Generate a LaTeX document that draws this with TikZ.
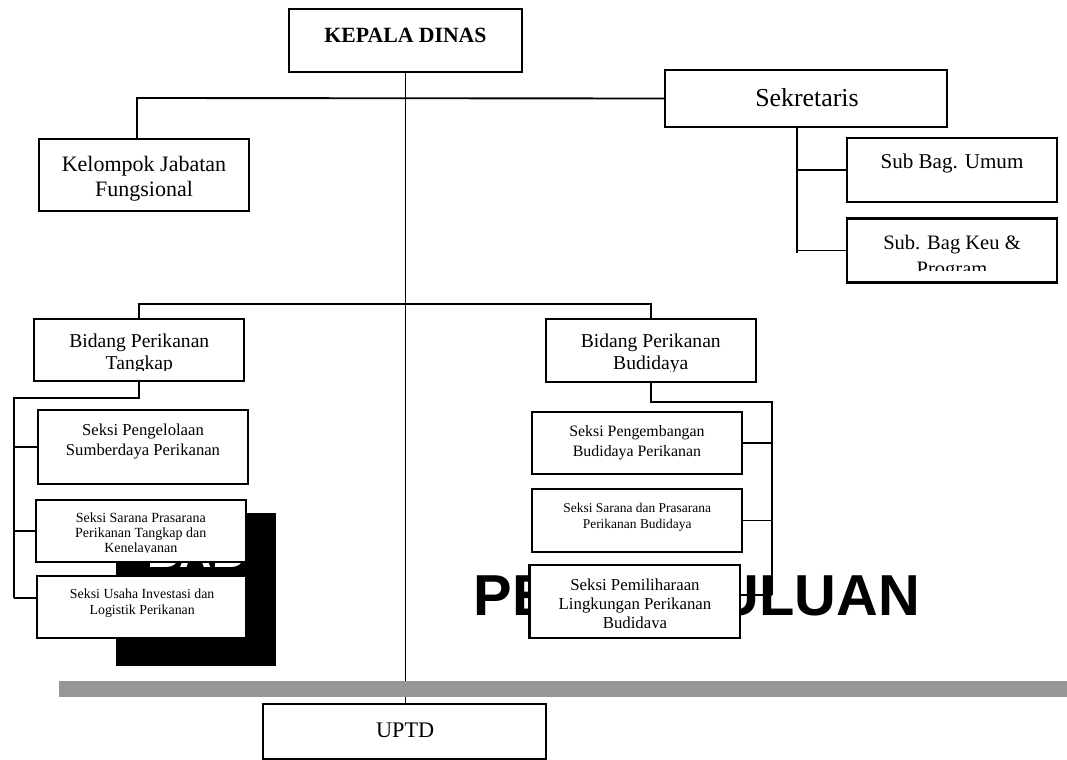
\documentclass[tikz,border=0pt]{standalone}
\usepackage{fontspec}
\setmainfont{Liberation Serif}
\setsansfont{Liberation Sans}
\definecolor{bargray}{RGB}{150,150,150}
\begin{document}
\begin{tikzpicture}[x=0.75pt,y=-0.75pt,
    box/.style={draw, line width=1.7pt, fill=white, inner sep=0pt, outer sep=0pt,
                minimum width=157.5pt, minimum height=46.5pt},
    txt/.style={align=center, inner sep=0pt},
    link/.style={line width=1.4pt}]
  \useasboundingbox (0,0) rectangle (1067,760);

  % stray page background: black block and heading
  \fill (116,513) rectangle (276,666);
  \node[white, inner sep=0pt, anchor=base, font=\fontsize{33.6pt}{40pt}\selectfont\sffamily\bfseries] (bab) at (196,567) {BAB};
  \node[inner sep=0pt, anchor=base, font=\fontsize{43.35pt}{52pt}\selectfont\sffamily\bfseries] (head) at (697,615) {PENDAHULUAN};

  % boxes
  \node[box, minimum width=174.75pt, minimum height=47.25pt] (kepala) at (405.5,40.5) {};
  \node[box, minimum height=54pt] (kel) at (144,175) {};
  \node[box, minimum width=211.5pt, minimum height=42.75pt] (sek) at (806,98.5) {};
  \node[box, minimum height=48pt] (subumum) at (952,170) {};
  \node[box, minimum height=48pt] (subkeu) at (952,250.5) {};
  \node[box] (bpt) at (139,350) {};
  \node[box, minimum height=47pt] (bpb) at (650.7,350.3) {};
  \node[box, minimum height=55.5pt] (s1) at (143,447) {};
  \node[box] (s2) at (141,531) {};
  \node[box, minimum width=156.75pt] (s3) at (141.5,607) {};
  \node[box] (s4) at (637,442.7) {};
  \node[box, minimum height=46.8pt] (s5) at (637,520.5) {};
  \node[box, minimum width=158pt, minimum height=54.3pt] (s6) at (634.7,601.5) {};
  \node[box, minimum width=211.8pt, minimum height=41.5pt] (uptd) at (404.5,731.3) {};

  % texts
  \node[txt, font=\fontsize{16.3pt}{19pt}\selectfont\bfseries] (t-kepala) at (405.5,35.5) {KEPALA DINAS};
  \node[txt, font=\fontsize{16.5pt}{18.75pt}\selectfont] (t-kel) at (144,178.5) {Kelompok Jabatan\\Fungsional};
  \node[txt, font=\fontsize{19.4pt}{23pt}\selectfont] (t-sek) at (807,98) {Sekretaris};
  \node[txt, font=\fontsize{15.8pt}{19pt}\selectfont] (t-subumum) at (952,163) {Sub Bag. Umum};
  \node[txt, font=\fontsize{12.5pt}{14.3pt}\selectfont] (t-s1) at (143,441.5) {Seksi Pengelolaan\\Sumberdaya Perikanan};
  \node[txt, font=\fontsize{10.4pt}{12.3pt}\selectfont] (t-s3) at (142.2,603) {Seksi Usaha Investasi dan\\Logistik Perikanan};
  \node[txt, font=\fontsize{11.9pt}{15pt}\selectfont] (t-s4) at (637,442.5) {Seksi Pengembangan\\Budidaya Perikanan};
  \node[txt, font=\fontsize{10.1pt}{12pt}\selectfont] (t-s5) at (637.2,517.5) {Seksi Sarana dan Prasarana\\Perikanan Budidaya};
  \node[txt, font=\fontsize{16.7pt}{20pt}\selectfont] (t-uptd) at (405.2,730) {UPTD};

  % texts cut off at the bottom of their box
  \begin{scope}
    \clip (subkeu.north west) rectangle ([yshift=9pt]subkeu.south east);
    \node[txt, font=\fontsize{15.4pt}{19.8pt}\selectfont] (t-subkeu) at (952,257.5) {Sub. Bag Keu \&\\Program};
  \end{scope}
  \begin{scope}
    \clip (bpt.north west) rectangle ([yshift=8.25pt]bpt.south east);
    \node[txt, font=\fontsize{14.7pt}{16.5pt}\selectfont] (t-bpt) at (139.3,353.5) {Bidang Perikanan\\Tangkap};
  \end{scope}
  \begin{scope}
    \clip (bpb.north west) rectangle ([yshift=7.5pt]bpb.south east);
    \node[txt, font=\fontsize{14.7pt}{16.5pt}\selectfont] (t-bpb) at (650.8,354) {Bidang Perikanan\\Budidaya};
  \end{scope}
  \begin{scope}
    \clip (s2.north west) rectangle ([yshift=7.5pt]s2.south east);
    \node[txt, font=\fontsize{10.5pt}{11.25pt}\selectfont] (t-s2) at (140.8,534.5) {Seksi Sarana Prasarana\\Perikanan Tangkap dan\\Kenelayanan};
  \end{scope}
  \begin{scope}
    \clip (s6.north west) rectangle ([yshift=7.5pt]s6.south east);
    \node[txt, font=\fontsize{12.6pt}{14.1pt}\selectfont] (t-s6) at (635,605.5) {Seksi Pemiliharaan\\Lingkungan Perikanan\\Budidaya};
  \end{scope}

  % connectors
  \coordinate (k0) at (137,98);
  \coordinate (sp) at (797,253);
  \coordinate (tp1) at (14,398);
  \coordinate (tp2) at (14,598);
  \coordinate (bp1) at (772,401.7);
  \coordinate (bp2) at (772,595);
  \draw[link] (kepala.south) -- (kepala.south |- uptd.north);
  \draw[link] (k0 |- kel.north) -- (k0) -- (sek.west);
  \draw[link] (sp |- sek.south) -- (sp);
  \draw[link] (sp |- subumum.west) -- (subumum.west);
  \draw[link] (sp |- subkeu.west) -- (subkeu.west);
  \draw[link] (bpt.north) -- ++(0,-15) -| (bpb.north);
  \draw[link] (bpt.south) |- (tp1) -- (tp2);
  \draw[link] (s1.west -| tp1) -- (s1.west);
  \draw[link] (s2.west -| tp1) -- (s2.west);
  \draw[link] (tp2) -- (tp2 -| s3.west);
  \draw[link] (bpb.south) |- (bp1) -- (bp2);
  \draw[link] (s4.east) -- (s4.east -| bp1);
  \draw[link] (s5.east) -- (s5.east -| bp1);
  \draw[link] (bp2) -- (bp2 -| s6.east);

  % grey rule across the page
  \fill[bargray] (59,680.7) rectangle (1067,696.7);
\end{tikzpicture}
\end{document}
